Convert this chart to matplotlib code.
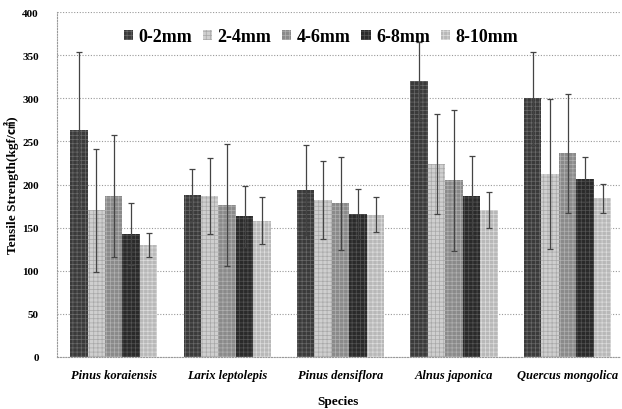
import matplotlib
matplotlib.use("Agg")
import matplotlib.pyplot as plt
import numpy as np

species = ["Pinus koraiensis", "Larix leptolepis", "Pinus densiflora", "Alnus japonica", "Quercus mongolica"]
classes = ["0-2mm", "2-4mm", "4-6mm", "6-8mm", "8-10mm"]
means = {
    "0-2mm":  [263, 188, 194, 320, 300],
    "2-4mm":  [170, 187, 182, 224, 212],
    "4-6mm":  [187, 176, 178, 205, 236],
    "6-8mm":  [143, 163, 166, 187, 206],
    "8-10mm": [130, 158, 165, 170, 184],
}
errors = {
    "0-2mm":  [91, 30, 52, 45, 54],
    "2-4mm":  [71, 44, 45, 58, 87],
    "4-6mm":  [71, 71, 54, 82, 69],
    "6-8mm":  [36, 35, 29, 46, 26],
    "8-10mm": [14, 27, 20, 21, 17],
}
yticks = [0, 50, 100, 150, 200, 250, 300, 350, 400]

colors = ["#3a3a3a", "#cfcfcf", "#8a8a8a", "#2a2a2a", "#b8b8b8"]
hatch_cols = ["#6a6a6a", "#a8a8a8", "#b0b0b0", "#555555", "#dddddd"]
plt.rcParams["hatch.linewidth"] = 0.5

fig = plt.figure(figsize=(6.22, 4.10), dpi=100)
ax = fig.add_axes([0.0916, 0.127, 0.905, 0.841])

serif = ["Liberation Serif", "DejaVu Serif"]
x = np.arange(len(species))
w = 0.154
for i, c in enumerate(classes):
    pos = x + (i - 2) * w
    ax.bar(pos, means[c], width=w, color=colors[i], edgecolor=hatch_cols[i],
           hatch="++++", linewidth=0, label=c, zorder=2)
    ax.errorbar(pos, means[c], yerr=errors[c], fmt="none", ecolor="#444444",
                elinewidth=0.9, capsize=2, capthick=0.9, zorder=3)

ax.set_ylim(0, 400)
ax.set_xlim(-0.5, 4.46)
ax.set_yticks(yticks)
ax.set_yticklabels([str(v) for v in yticks], fontfamily=serif, fontweight="bold", fontsize=8)
ax.set_xticks(x)
ax.set_xticklabels(species, fontfamily=serif, fontweight="bold", fontstyle="italic", fontsize=9)
ax.tick_params(axis="y", length=0, pad=13)
ax.tick_params(axis="x", length=0, pad=9)
ax.yaxis.grid(True, linestyle=(0, (1, 1.5)), color="#999999", linewidth=0.8, zorder=0)
ax.set_axisbelow(True)
for s in ["top", "right"]:
    ax.spines[s].set_visible(False)
for s in ["left", "bottom"]:
    ax.spines[s].set_linestyle((0, (1, 1.5)))
    ax.spines[s].set_color("#999999")
    ax.spines[s].set_linewidth(0.8)

ax.set_ylabel("Tensile Strength(kgf/㎠)", fontfamily=["Liberation Serif", "Noto Sans CJK KR"],
              fontweight="bold", fontsize=9.6)
ax.yaxis.set_label_coords(-0.068, 0.5)
ax.set_xlabel("Species", fontfamily=serif, fontweight="bold", fontsize=9.5, labelpad=10)

leg = ax.legend(loc="upper center", bbox_to_anchor=(0.469, 1.0), ncol=5, frameon=False,
                prop={"family": serif, "weight": "bold", "size": 13},
                handlelength=0.5, handleheight=0.5, handletextpad=0.3, columnspacing=0.6)

fig.savefig("out.png", dpi=100)
